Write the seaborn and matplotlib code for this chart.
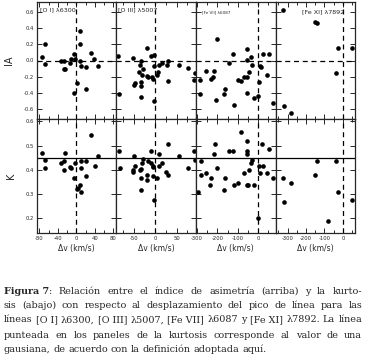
import matplotlib
matplotlib.use("Agg")
import matplotlib.pyplot as plt
import seaborn as sns
from matplotlib.ticker import MultipleLocator

## values: velocity shift (km/s), asymmetry index IA, kurtosis K

## [O I] 6300
dv_oi_ia = [-68, -74, -68, -32, -26, -27, -24, -13, -12, -4, -2, 8, 9, 9, 10, 21, 31, 38, 47, 2, -5, 22]
ia_oi = [0.21, 0.04, -0.04, -0.01, 0.00, -0.10, -0.10, -0.03, 0.02, 0.08, 0.02, 0.00, 0.37, 0.20,
         -0.07, -0.08, 0.09, 0.02, -0.07, -0.28, -0.41, -0.36]
dv_oi_k = [-74, -67, -68, -32, -27, -24, -26, -13, -12, -3, -5, 7, 4, 1, 10, 10, 10, 22, 21, 31, 40, 48]
k_oi = [0.469, 0.439, 0.409, 0.428, 0.436, 0.469, 0.398, 0.414, 0.407, 0.428, 0.368, 0.339, 0.325,
        0.32, 0.309, 0.436, 0.407, 0.436, 0.377, 0.545, 0.418, 0.458]

## [O III] 5007
dv_oiii_ia = [-86, -84, -52, -18, -33, -36, -29, -37, -31, -19, -16, -8, -4, -9, -2, -2, 8, 17, 7, 4,
              28, 31, 29, 55, 77, 93, 90, -50, -46, -34, -33, -32, -2]
ia_oiii = [0.05, -0.42, 0.03, 0.16, -0.01, -0.06, -0.10, -0.14, -0.18, -0.19, -0.20, -0.21, -0.23,
           0.06, 0.07, -0.07, -0.06, -0.03, -0.14, -0.18, -0.06, -0.01, -0.25, -0.05, -0.09, -0.16,
           -0.24, -0.30, -0.28, -0.27, -0.32, -0.46, -0.51]
dv_oiii_k = [-84, -82, -50, -46, -52, -52, -35, -33, -31, -29, -17, -19, -19, -33, -33, -10, -9, -5,
             -5, -4, -2, 4, 8, 9, 17, 26, 29, 30, 55, 77, 90, 93]
k_oiii = [0.477, 0.409, 0.459, 0.418, 0.398, 0.391, 0.398, 0.405, 0.428, 0.445, 0.436, 0.380, 0.357,
          0.366, 0.319, 0.477, 0.428, 0.411, 0.377, 0.418, 0.278, 0.366, 0.466, 0.418, 0.428, 0.391,
          0.381, 0.507, 0.456, 0.407, 0.477, 0.439]

## [Fe VII] 6087
dv_fevii_ia = [-200, -255, -287, -284, -231, -224, -219, -163, -168, -208, -120, -141, -125, -101,
               -84, -68, -54, -54, -57, -37, -29, -46, -54, -21, -2, 2, 11, 15, 22, 51, 43, 73]
ia_fevii = [0.27, -0.13, -0.24, -0.42, -0.23, -0.21, -0.13, -0.36, -0.42, -0.49, -0.55, -0.03, 0.08,
            -0.24, -0.25, -0.20, -0.20, 0.14, 0.01, 0.04, -0.06, -0.14, -0.41, -0.47, -0.44, -0.27,
            -0.07, -0.08, 0.08, 0.08, -0.18, -0.53]
dv_fevii_k = [-295, -282, -282, -255, -231, -236, -211, -219, -200, -163, -168, -141, -125, -120,
              -101, -84, -70, -57, -54, -56, -37, -29, -46, -54, -21, 2, 11, 18, 22, 43, 51, 73, -2, -49]
k_fevii = [0.309, 0.436, 0.381, 0.388, 0.368, 0.339, 0.507, 0.466, 0.407, 0.368, 0.319, 0.477, 0.477,
           0.339, 0.347, 0.557, 0.388, 0.518, 0.477, 0.466, 0.428, 0.439, 0.398, 0.339, 0.339, 0.418,
           0.388, 0.507, 0.418, 0.388, 0.486, 0.368, 0.20, 0.339]

## [Fe XI] 7892
dv_fexi_ia = [-324, -154, -140, -26, 47, -40, -321, -280]
ia_fexi = [0.63, 0.48, 0.47, 0.15, 0.15, -0.16, -0.57, -0.66]
dv_fexi_k = [-324, -280, -321, -154, -140, -40, -26, 47, -79]
k_fexi = [0.368, 0.347, 0.268, 0.380, 0.436, 0.436, 0.309, 0.278, 0.19]

titles = ["[O I] λ6300", "[O III] λ5007", "[Fe VII] λ6087", "[Fe XI] λ7892"]
k_gauss = 0.45

sns.set_style("ticks")
plt.rcParams['font.family'] = ['DejaVu Sans']
plt.rcParams['axes.unicode_minus'] = False

fig = plt.figure(figsize=(3.66, 3.57), dpi=100)
gs = fig.add_gridspec(2, 4, left=37/366, right=355/366, top=1-2/357, bottom=1-233/357,
                      wspace=0, hspace=0, height_ratios=[117, 114])
axes = gs.subplots(sharex='col', sharey='row')

top_data = [(dv_oi_ia, ia_oi), (dv_oiii_ia, ia_oiii), (dv_fevii_ia, ia_fevii), (dv_fexi_ia, ia_fexi)]
bot_data = [(dv_oi_k, k_oi), (dv_oiii_k, k_oiii), (dv_fevii_k, k_fevii), (dv_fexi_k, k_fexi)]
xlims = [(-85, 87), (-90, 95), (-305, 85), (-365, 65)]
xmajor = [40, 50, 100, 100]
xminor = [20, 25, 50, 50]

for i in range(4):
    ax1, ax2 = axes[0, i], axes[1, i]
    sns.scatterplot(x=top_data[i][0], y=top_data[i][1], ax=ax1, color="black", s=11, linewidth=0)
    sns.scatterplot(x=bot_data[i][0], y=bot_data[i][1], ax=ax2, color="black", s=11, linewidth=0)
    ax1.axhline(0, color="black", lw=0.9, ls=(0, (4, 3)))
    ax1.axvline(0, color="black", lw=0.9, ls=(0, (4, 3)))
    ax2.axhline(k_gauss, color="black", lw=0.9)
    ax2.axvline(0, color="black", lw=0.9, ls=(0, (4, 3)))
    ax2.set_xlim(*xlims[i])
    ax2.xaxis.set_major_locator(MultipleLocator(xmajor[i]))
    ax2.xaxis.set_minor_locator(MultipleLocator(xminor[i]))
    ax2.set_xlabel("Δv (km/s)", fontsize=5.5, labelpad=2)
    for ax in (ax1, ax2):
        for s in ax.spines.values():
            s.set_linewidth(0.9)
        ax.tick_params(which="both", direction="in", top=True, right=True, width=0.7,
                       labelsize=3.8, pad=2)
        ax.tick_params(which="major", length=3.5)
        ax.tick_params(which="minor", length=2)

axes[1, 0].set_xticks([-80, -40, 0, 40, 80])
axes[0, 0].set_ylim(-0.73, 0.73)
axes[0, 0].set_yticks([-0.6, -0.4, -0.2, 0.0, 0.2, 0.4, 0.6])
axes[0, 0].set_yticklabels(["-0.6", "-0.4", "-0.2", "0.0", "0.2", "0.4", "0.6"])
axes[1, 0].set_ylim(0.14, 0.61)
axes[1, 0].set_yticks([0.2, 0.3, 0.4, 0.5, 0.6])
axes[1, 0].set_yticklabels(["0.2", "0.3", "0.4", "0.5", "0.6"])
axes[0, 0].set_ylabel("IA", fontsize=7, labelpad=7)
axes[1, 0].set_ylabel("K", fontsize=7, labelpad=7)

axes[0, 0].text(0.04, 0.935, titles[0], transform=axes[0, 0].transAxes, fontsize=4.6, va="center")
axes[0, 1].text(0.02, 0.935, titles[1], transform=axes[0, 1].transAxes, fontsize=4.6, va="center")
axes[0, 2].text(0.08, 0.915, titles[2], transform=axes[0, 2].transAxes, fontsize=3, va="center")
axes[0, 3].text(0.86, 0.915, titles[3], transform=axes[0, 3].transAxes, fontsize=4.6,
                va="center", ha="right")

## caption, justified word by word ("~" = non-breaking space)
caption = [
    [("Figura~7", "bold"), (": Relación entre el índice de asimetría (arriba) y la kurto-", "normal")],
    [("sis (abajo) con respecto al desplazamiento del pico de línea para las", "normal")],
    [("líneas [O~I] λ6300, [O~III] λ5007, [Fe~VII] λ6087 y [Fe~XI] λ7892. La línea", "normal")],
    [("punteada en los paneles de la kurtosis corresponde al valor de una", "normal")],
    [("gausiana, de acuerdo con la definición adoptada aquí.", "normal")],
]
line_y = [291, 305, 320, 335, 349]
x_left, x_right = 4, 362
cap_font = dict(family="DejaVu Serif", fontsize=6.9)

renderer = fig.canvas.get_renderer()
for n, parts in enumerate(caption):
    groups = []
    for k, (txt, wt) in enumerate(parts):
        chunks = txt.split(" ")
        for j, c in enumerate(chunks):
            if c == "":
                continue
            c = c.replace("~", " ")
            if j == 0 and k > 0:
                groups[-1].append((c, wt))
            else:
                groups.append([(c, wt)])
    y = 1 - line_y[n] / 357
    objs = []
    widths = []
    for group in groups:
        gw = 0
        gobjs = []
        for c, wt in group:
            t = fig.text(0, y, c, fontweight=wt, va="center", **cap_font)
            w = t.get_window_extent(renderer).width
            gobjs.append((t, w))
            gw += w
        objs.append(gobjs)
        widths.append(gw)
    if n < len(caption) - 1:
        gap = (x_right - x_left - sum(widths)) / (len(widths) - 1)
    else:
        gap = 2.8
    x = x_left
    for gobjs, gw in zip(objs, widths):
        for t, w in gobjs:
            t.set_x(x / 366)
            x += w
        x += gap

fig.savefig("out.png", dpi=100)
